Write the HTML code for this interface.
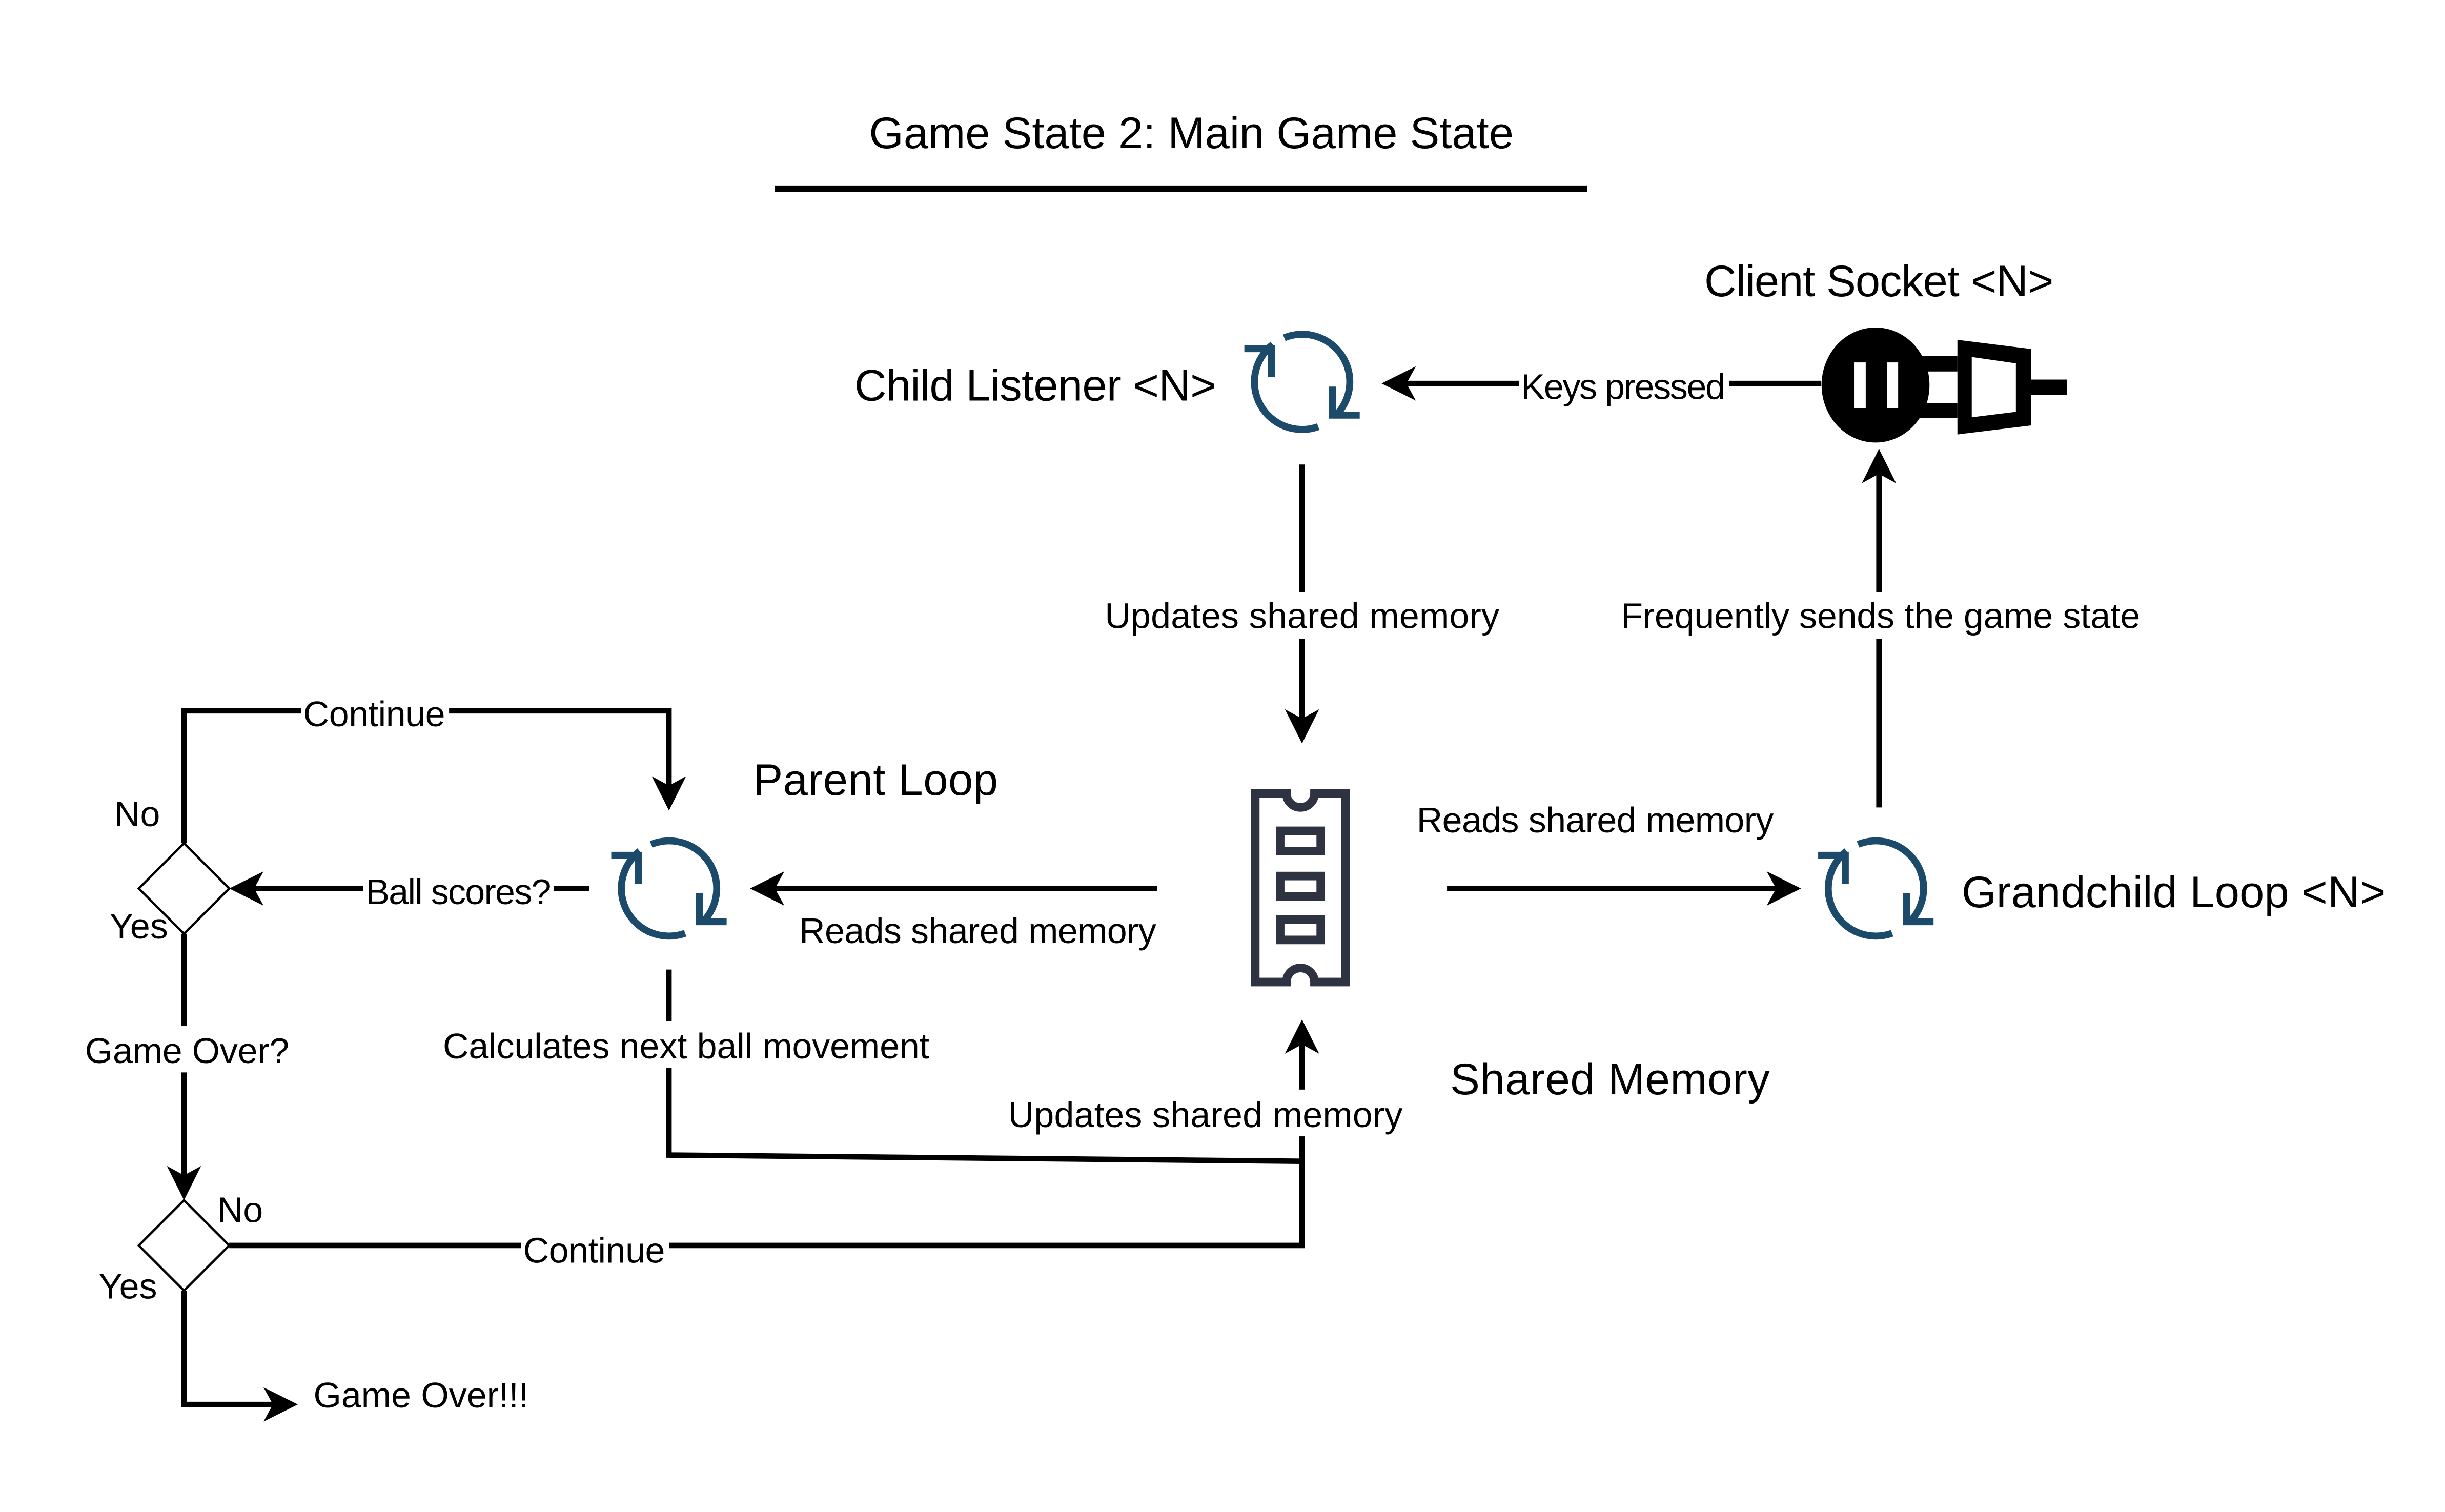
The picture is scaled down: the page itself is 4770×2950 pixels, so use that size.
<!DOCTYPE html>
<html><head><meta charset="utf-8"><style>
html,body{margin:0;padding:0;background:#fff;}
svg{display:block;}
text{font-family:"Liberation Sans",sans-serif;fill:#000;}
</style></head><body>
<svg width="4770" height="2950" viewBox="0 0 1568 970" preserveAspectRatio="none" xmlns="http://www.w3.org/2000/svg">
<defs>
<g id="ref" fill="none" stroke="#1b4a6b" stroke-width="4.5">
<path d="M10.4 28.7 A30.5 30.5 0 0 1 -18.8 -24"/>
<path d="M-11.4 -28.3 A30.5 30.5 0 0 1 21.6 21.6"/>
<path d="M-37 -21.3 H-19.6 V-3"/>
<path d="M19.6 3 V21.3 H37"/>
</g>
</defs>
<rect width="1568" height="970" fill="#fff"/>

<text x="764" y="95" font-size="28.5" text-anchor="middle">Game State 2: Main Game State</text>
<line x1="497" y1="121" x2="1018" y2="121" stroke="#000" stroke-width="4"/>

<g stroke="#000" stroke-width="3.5" fill="none">
<line x1="1168" y1="246" x2="900" y2="246"/>
<line x1="835" y1="298" x2="835" y2="462"/>
<line x1="1205" y1="518" x2="1205" y2="303"/>
<line x1="928" y1="570" x2="1142" y2="570"/>
<line x1="742" y1="570" x2="495" y2="570"/>
<line x1="378" y1="570" x2="160" y2="570"/>
<polyline points="118,541 118,456 429,456 429,505"/>
<polyline points="429,622 429,741 835,745"/>
<line x1="835" y1="800" x2="835" y2="668"/>
<line x1="118" y1="599" x2="118" y2="757"/>
<polyline points="147,799 835,799 835,745"/>
<polyline points="118,828 118,901 178,901"/>
</g>
<g fill="#000">
<polygon points="886,246 908,235 902,246 908,257"/>
<polygon points="835,477 824,455 835,461 846,455"/>
<polygon points="1205,288 1194,310 1205,304 1216,310"/>
<polygon points="1155,570 1133,559 1139,570 1133,581"/>
<polygon points="481,570 503,559 497,570 503,581"/>
<polygon points="147,570 169,559 163,570 169,581"/>
<polygon points="429,520 418,498 429,504 440,498"/>
<polygon points="835,654 824,676 835,670 846,676"/>
<polygon points="118,770 107,748 118,754 129,748"/>
<polygon points="191,901 169,890 175,901 169,912"/>
</g>

<polygon points="118,541 147,570 118,599 89,570" fill="#fff" stroke="#000" stroke-width="1.5"/>
<polygon points="118,770 147,799 118,828 89,799" fill="#fff" stroke="#000" stroke-width="1.5"/>

<g fill="#fff">
<rect x="974" y="232" width="135" height="28"/>
<rect x="702" y="380" width="266" height="30"/>
<rect x="1034" y="380" width="344" height="30"/>
<rect x="193" y="443" width="95" height="28"/>
<rect x="233" y="556" width="122" height="28"/>
<rect x="280" y="655" width="320" height="30"/>
<rect x="50" y="658" width="140" height="30"/>
<rect x="642" y="699" width="262" height="30"/>
<rect x="334" y="787" width="95" height="28"/>
</g>

<g font-size="23">
<text x="1041" y="256" text-anchor="middle" textLength="131">Keys pressed</text>
<text x="835" y="403" text-anchor="middle" textLength="253">Updates shared memory</text>
<text x="1206" y="403" text-anchor="middle" textLength="333">Frequently sends the game state</text>
<text x="1023" y="534" text-anchor="middle" textLength="229">Reads shared memory</text>
<text x="627" y="605" text-anchor="middle" textLength="229">Reads shared memory</text>
<text x="294" y="580" text-anchor="middle" textLength="119">Ball scores?</text>
<text x="240" y="466" text-anchor="middle" textLength="91">Continue</text>
<text x="440" y="679" text-anchor="middle" textLength="312">Calculates next ball movement</text>
<text x="773" y="723" text-anchor="middle" textLength="253">Updates shared memory</text>
<text x="120" y="682" text-anchor="middle" textLength="131">Game Over?</text>
<text x="381" y="810" text-anchor="middle" textLength="91">Continue</text>
<text x="201" y="903" textLength="138">Game Over!!!</text>
<text x="88" y="530" text-anchor="middle">No</text>
<text x="89" y="602" text-anchor="middle">Yes</text>
<text x="154" y="784" text-anchor="middle">No</text>
<text x="82" y="833" text-anchor="middle">Yes</text>
</g>

<g font-size="28.5">
<text x="780" y="257" text-anchor="end" textLength="232">Child Listener &lt;N&gt;</text>
<text x="1205" y="190" text-anchor="middle" textLength="224">Client Socket &lt;N&gt;</text>
<text x="483" y="510" textLength="157">Parent Loop</text>
<text x="1258" y="582" textLength="272">Grandchild Loop &lt;N&gt;</text>
<text x="930" y="702" textLength="205">Shared Memory</text>
</g>

<use href="#ref" x="835" y="245"/>
<use href="#ref" x="429" y="570"/>
<use href="#ref" x="1203" y="570"/>

<g fill="none" stroke="#2e3342" stroke-width="5.5">
<path d="M805 509 H825 A9 9 0 0 0 843 509 H863 V630 H843 A9 9 0 0 0 825 630 H805 Z"/>
<rect x="821" y="533" width="26" height="13"/>
<rect x="821" y="562" width="26" height="13"/>
<rect x="821" y="590" width="26" height="13"/>
</g>

<g transform="translate(5,0)">
<path d="M1222 228.5 H1250.3 V268.3 H1222 Z M1222 238.3 V258.5 H1250.3 V238.3 Z" fill="#000" fill-rule="evenodd"/>
<path d="M1250.3 218 L1297.6 223.9 V272.9 L1250.3 278.7 Z M1259.5 229 V267.7 L1287.8 264.2 V233.1 Z" fill="#000" fill-rule="evenodd"/>
<rect x="1297" y="243.5" width="23.6" height="9.8" fill="#000"/>
<ellipse cx="1197.8" cy="247" rx="34.6" ry="36.9" fill="#000"/>
<rect x="1184" y="232.5" width="7.5" height="29.5" fill="#fff"/>
<rect x="1205.3" y="232.5" width="7" height="29.5" fill="#fff"/>
</g>
</svg>
</body></html>
